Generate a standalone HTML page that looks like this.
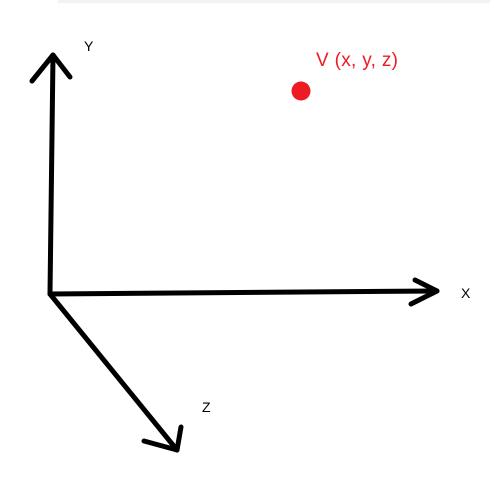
<!DOCTYPE html>
<html><head><meta charset="utf-8"><style>
html,body{margin:0;padding:0;background:#fff;width:490px;height:481px;overflow:hidden}
svg{display:block}
text{font-family:"Liberation Sans",sans-serif}
</style></head><body>
<svg width="490" height="481" viewBox="0 0 490 481">
<rect x="58" y="0" width="432" height="3" fill="#f2f2f2"/>
<g stroke="#000" stroke-width="5" stroke-linecap="round" stroke-linejoin="round" fill="none">
<polyline points="50,294 53,55"/>
<polyline points="32,81 53,55 70,77"/>
<polyline points="50,294 437,291"/>
<polyline points="415,280 437,291 411,304"/>
<polyline points="50,294 177,450"/>
<polyline points="144,441 177,450 181,427"/>
</g>
<circle cx="301" cy="91" r="9.5" fill="#ed1c24"/>
<text x="316" y="66" font-size="19" textLength="82" fill="#ed1c24">V (x, y, z)</text>
<text x="84" y="51" font-size="14" fill="#000">Y</text>
<text x="461" y="298" font-size="14" fill="#000">X</text>
<text x="202" y="412" font-size="14" fill="#000">Z</text>
</svg>
</body></html>
